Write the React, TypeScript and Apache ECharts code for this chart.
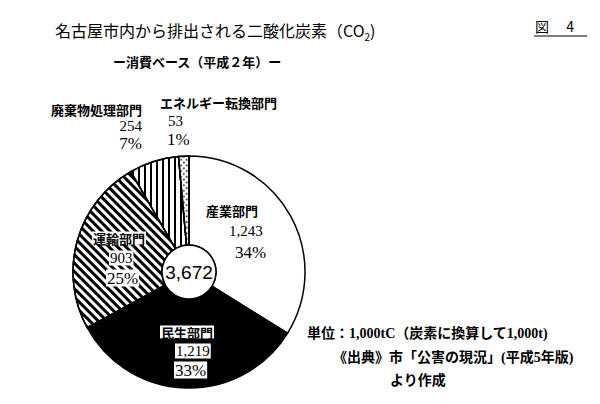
import React, { useEffect, useRef } from 'react';
import * as echarts from 'echarts';

// ---- data ----
const categories = ['産業部門', '民生部門', '運輸部門', '廃棄物処理部門', 'エネルギー転換部門'];
const values = [1243, 1219, 903, 254, 53];

const titleMain = '名古屋市内から排出される二酸化炭素（CO';
const titleSub = '2';
const titleEnd = ')';
const subtitle = 'ー消費ベース（平成２年）ー';
const figLabel = '図　 4';
const noteLines = ['単位：1,000tC（炭素に換算して1,000t)', '《出典》市「公害の現況」(平成5年版)', 'より作成'];

// ---- styles ----
const fills = ['#ffffff', '#000000', '#ffffff', '#ffffff', '#ffffff'];
const decals: any[] = [
  null,
  null,
  { symbol: 'rect', symbolSize: 1, color: '#000', dashArrayX: [1, 0], dashArrayY: [2.2, 2.4], rotation: Math.PI / 4 },
  { symbol: 'rect', symbolSize: 1, color: '#000', dashArrayX: [1.4, 3.8], dashArrayY: [1, 0], rotation: 0 },
  { symbol: 'rect', symbolSize: 0.8, color: '#000', dashArrayX: [1.5, 1.5], dashArrayY: [1.5, 1.5], rotation: Math.PI / 4 },
];
// label placement (x, y, align, spacer before value line, spacer before pct line, line height, white box)
const labelPlace: any[] = [
  { x: 206, y: 231, align: 'left', s1: 23, s2: 29, lh: 21, box: false },
  { x: 160, y: 351, align: 'left', s1: 15, s2: 14, lh: 19, box: true },
  { x: 92, y: 258, align: 'left', s1: 17, s2: 14, lh: 20, box: true },
  { x: 142, y: 126, align: 'right', s1: 0, s2: 0, lh: 17, box: false },
  { x: 160, y: 121, align: 'left', s1: 8, s2: 7, lh: 18.5, box: false },
];

const JP = '"Noto Sans CJK JP", "Noto Sans CJK SC", sans-serif';
const SERIF = '"Liberation Serif", "DejaVu Serif", serif';
const NOTE_FONT = `bold 14px "Liberation Serif", "Noto Sans CJK JP", serif`;

export default function App() {
  const ref = useRef<HTMLDivElement>(null);
  useEffect(() => {
    if (!ref.current) return;
    const chart = echarts.init(ref.current, null, { renderer: 'svg' });
    const total = values.reduce((a, b) => a + b, 0);
    const center = [189, 272];

    const data = categories.map((name, i) => {
      const p = labelPlace[i];
      const bg = p.box ? '#fff' : 'transparent';
      const rich: any = {
        n: { fontFamily: JP, fontWeight: 'bold', fontSize: 13, color: '#000', lineHeight: p.lh, backgroundColor: bg, padding: p.box ? [0, 1] : 0 },
        v: { fontFamily: SERIF, fontSize: 15, color: '#000', lineHeight: p.lh, backgroundColor: bg, padding: p.box ? [0, 1] : 0 },
        p: { fontFamily: SERIF, fontSize: 17, color: '#000', lineHeight: p.lh, backgroundColor: bg, padding: p.box ? [0, 1] : 0 },
        s1: { width: p.s1, lineHeight: p.lh },
        s2: { width: p.s2, lineHeight: p.lh },
      };
      const itemStyle: any = { color: fills[i], borderColor: '#000', borderWidth: 1.5 };
      if (decals[i]) itemStyle.decal = decals[i];
      return {
        name,
        value: values[i],
        itemStyle,
        label: {
          rich,
          formatter: (prm: any) =>
            `{n|${prm.name}}\n{s1|}{v|${prm.value.toLocaleString('en-US')}}\n{s2|}{p|${prm.percent}%}`,
        },
      };
    });

    chart.setOption({
      animation: false,
      backgroundColor: '#fff',
      series: [
        {
          type: 'pie',
          center,
          radius: [27, 116],
          startAngle: 90,
          clockwise: true,
          percentPrecision: 0,
          avoidLabelOverlap: false,
          silent: true,
          label: { show: true, position: 'inside' },
          labelLine: { show: false },
          labelLayout: (params: any) => {
            const p = labelPlace[params.dataIndex];
            return { x: p.x, y: p.y, align: p.align, verticalAlign: 'middle' };
          },
          data,
        },
        {
          type: 'pie',
          center,
          radius: [0, 27],
          silent: true,
          z: 5,
          itemStyle: { color: '#fff', borderColor: '#000', borderWidth: 1.5 },
          label: {
            show: true,
            position: 'center',
            formatter: () => total.toLocaleString('en-US'),
            fontFamily: '"Liberation Sans", Arial, sans-serif',
            fontSize: 19,
            color: '#000',
          },
          labelLine: { show: false },
          data: [{ name: 'total', value: total }],
        },
      ],
      graphic: [
        {
          type: 'text',
          x: 55,
          y: 30,
          style: {
            text: `{a|${titleMain}}{s|${titleSub}}{a|${titleEnd}}`,
            verticalAlign: 'middle',
            rich: {
              a: { fontFamily: JP, fontSize: 16, color: '#000', lineHeight: 22 },
              s: { fontFamily: JP, fontSize: 10, color: '#000', lineHeight: 22, verticalAlign: 'bottom', padding: [8, 0, 0, 0] },
            },
          },
        },
        {
          type: 'text',
          x: 113,
          y: 61,
          style: { text: subtitle, fontFamily: JP, fontWeight: 'bold', fontSize: 13, fill: '#000', verticalAlign: 'middle' },
        },
        {
          type: 'text',
          x: 535,
          y: 26,
          style: { text: figLabel, fontFamily: JP, fontSize: 14, fill: '#000', verticalAlign: 'middle' },
        },
        {
          type: 'line',
          shape: { x1: 534, y1: 36, x2: 587, y2: 36 },
          style: { stroke: '#000', lineWidth: 1 },
        },
        {
          type: 'text',
          x: 307,
          y: 333,
          style: { text: noteLines[0], font: NOTE_FONT, fill: '#000', verticalAlign: 'middle' },
        },
        {
          type: 'text',
          x: 333,
          y: 357,
          style: { text: noteLines[1], font: NOTE_FONT, fill: '#000', verticalAlign: 'middle' },
        },
        {
          type: 'text',
          x: 390,
          y: 380,
          style: { text: noteLines[2], font: NOTE_FONT, fill: '#000', verticalAlign: 'middle' },
        },
      ],
    });
    return () => chart.dispose();
  }, []);
  return <div ref={ref} style={{ position: 'fixed', left: 0, top: 0, width: 600, height: 404 }} />;
}
